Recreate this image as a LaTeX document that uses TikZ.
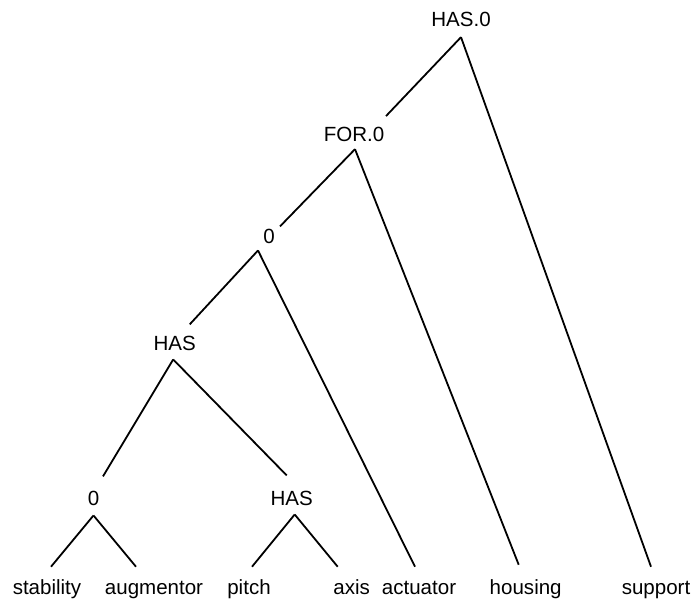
\documentclass[tikz,border=0pt]{standalone}
\usepackage{fontspec}
\setmainfont{Liberation Sans}
\usepackage{tikz}

\begin{document}
\begin{tikzpicture}[x=0.75pt,y=0.75pt,yscale=-1,xscale=1,
  lbl/.style={inner xsep=0pt,inner ysep=6pt,anchor=base,font=\fontsize{15.4}{18}\selectfont},
  leaf/.style={lbl,text height=11pt,text depth=3pt,inner ysep=9.25pt},
  branch/.style={line width=1.35pt}]
%set diagram left start at 0, and has height of 602
\useasboundingbox (0,0) rectangle (696,602);

% Text Node
\node[lbl] (has0) at (461,26.7) {HAS.0};
% Text Node
\node[lbl] (for0) at (354,141.7) {FOR.0};
% Text Node
\node[lbl] (zeroA) at (269,244) {0};
% Text Node
\node[lbl] (hasA) at (174.7,350) {HAS};
% Text Node
\node[lbl] (zeroB) at (93.5,505) {0};
% Text Node
\node[lbl] (hasB) at (291.7,505) {HAS};

% Text Node
\node[leaf] (stability) at (47,594) {stability};
% Text Node
\node[leaf] (augmentor) at (154,594) {augmentor};
% Text Node
\node[leaf] (pitch) at (249,594) {pitch};
% Text Node
\node[leaf] (axis) at (351.7,594) {axis};
% Text Node
\node[leaf] (actuator) at (419,594) {actuator};
% Text Node
\node[leaf] (housing) at (525.7,594) {housing};
% Text Node
\node[leaf] (support) at (656,594) {support};

%Straight Lines
\draw[branch] ([shift={(0,2)}]has0.south) -- ([shift={(32,-3)}]for0.north);
\draw[branch] ([shift={(0,2)}]has0.south) -- ([shift={(-5,0)}]support.north);

%Straight Lines
\draw[branch] ([shift={(1,-1)}]for0.south) -- ([shift={(11,5)}]zeroA.north);
\draw[branch] ([shift={(1,-1)}]for0.south) -- ([shift={(-7,-2)}]housing.north);

%Straight Lines
\draw[branch] ([shift={(-11,-2)}]zeroA.south) -- ([shift={(15,-3)}]hasA.north);
\draw[branch] ([shift={(-11,-2)}]zeroA.south) -- ([shift={(-4,0)}]actuator.north);

%Straight Lines
\draw[branch] ([shift={(-1.5,1)}]hasA.south) -- ([shift={(9.5,-6)}]zeroB.north);
\draw[branch] ([shift={(-1.5,1)}]hasA.south) -- ([shift={(-5,-7)}]hasB.north);

%Straight Lines
\draw[branch] ([shift={(0,2)}]zeroB.south) -- ([shift={(4,0)}]stability.north);
\draw[branch] ([shift={(0,2)}]zeroB.south) -- ([shift={(-18,0)}]augmentor.north);

%Straight Lines
\draw[branch] ([shift={(3,1)}]hasB.south) -- ([shift={(3,0)}]pitch.north);
\draw[branch] ([shift={(3,1)}]hasB.south) -- ([shift={(-14,0)}]axis.north);

\end{tikzpicture}
\end{document}
